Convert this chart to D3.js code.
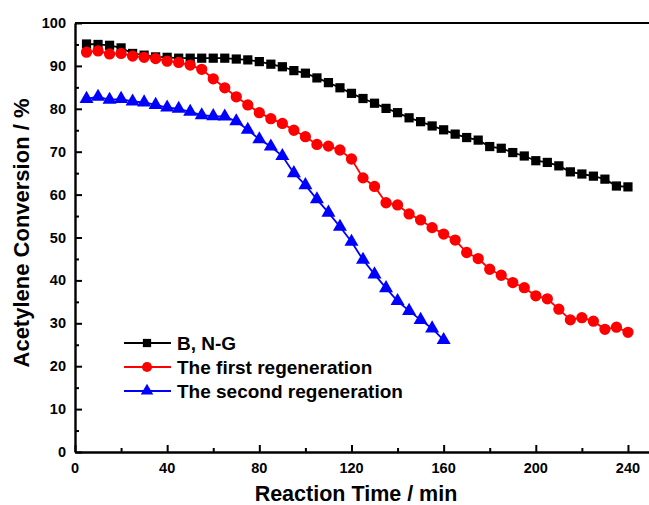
<!DOCTYPE html>
<html><head><meta charset="utf-8">
<script src="https://cdn.jsdelivr.net/npm/d3@7"></script>
<style>body{margin:0;background:#fff}svg{display:block}text{font-family:"Liberation Sans",Arial,sans-serif;font-weight:bold;fill:#000}</style>
</head><body>
<svg id="c" width="649" height="505"></svg>
<script>
const times = [5,10,15,20,25,30,35,40,45,50,55,60,65,70,75,80,85,90,95,100,105,110,115,120,125,130,135,140,145,150,155,160,165,170,175,180,185,190,195,200,205,210,215,220,225,230,235,240];
const bngValues = [95.1,95,94.8,94.2,92.9,92.5,92.1,92,91.8,91.8,91.8,91.8,91.8,91.6,91.4,91,90.4,89.8,88.9,88.3,87.2,86.1,84.9,83.6,82.4,81.3,80.1,79.1,77.9,77,76,75.1,74.1,73.3,72.7,71.2,70.8,69.8,69,67.9,67.5,66.7,65.3,64.8,64.3,63.6,62,61.8];
const firstValues = [93.2,93.5,92.8,92.9,92.3,92,91.7,91.1,90.8,90.2,89.2,87,84.9,82.8,80.9,79.1,77.7,76.6,75,73.5,71.7,71.3,70.4,68.3,63.9,61.9,58.1,57.6,55.5,54.1,52.3,50.8,49.4,46.5,45.1,42.6,41.2,39.5,38.3,36.4,35.7,33.3,30.8,31.3,30.5,28.6,29.1,27.9];
const secondValues = [82.3,82.8,82.1,82.3,81.7,81.5,80.9,80.3,80,79.3,78.5,78.3,78.2,77.1,75.1,72.9,71.2,69,65,62.2,58.9,55.8,52.5,49,44.8,41.4,38.2,35.2,32.9,30.8,28.8,26.1];
const seriesNames = ["B, N-G","The first regeneration","The second regeneration"];
const seriesColors = ["#000000","#ff0000","#0000ff"];
const xTicks = [0,40,80,120,160,200,240];
const yTicks = [0,10,20,30,40,50,60,70,80,90,100];

const svg = d3.select("#c");
const x = d3.scaleLinear().domain([0,250]).range([75,651]);
const y = d3.scaleLinear().domain([0,100]).range([452,23]);

// frame top line
svg.append("line").attr("x1",x(0)).attr("x2",x(250)).attr("y1",y(100)).attr("y2",y(100)).attr("stroke","#000").attr("stroke-width",2.2);

// x axis
const gx = svg.append("g").attr("transform",`translate(0,${y(0)})`);
gx.call(d3.axisBottom(x).tickValues(d3.range(0,241,20)).tickSize(0).tickFormat(""));
gx.select(".domain").attr("stroke-width",2.4);
gx.selectAll(".tick").append("line").attr("y2",d=>d%40===0?-7:-4).attr("stroke","#000").attr("stroke-width",2);
gx.selectAll(".tickl").data(xTicks).enter().append("text").attr("fill","#000")
  .attr("x",d=>x(d)).attr("y",21).attr("text-anchor","middle").attr("font-size",14.5).text(d=>d);

// y axis
const gy = svg.append("g").attr("transform",`translate(${x(0)},0)`);
gy.call(d3.axisLeft(y).tickValues(d3.range(0,101,5)).tickSize(0).tickFormat(""));
gy.select(".domain").attr("stroke-width",2.4);
gy.selectAll(".tick").append("line").attr("x2",d=>d%10===0?7:4).attr("stroke","#000").attr("stroke-width",2);
gy.selectAll(".tickl").data(yTicks).enter().append("text").attr("fill","#000")
  .attr("x",-9).attr("y",d=>y(d)+5).attr("text-anchor","end").attr("font-size",14.5).text(d=>d);

// titles
svg.append("text").attr("x",356).attr("y",501).attr("text-anchor","middle").attr("font-size",21.5).text("Reaction Time / min");
svg.append("text").attr("transform","translate(29,233) rotate(-90)").attr("text-anchor","middle").attr("font-size",22).text("Acetylene Conversion / %");

const allSeries = [bngValues, firstValues, secondValues];
const symbols = [d3.symbolSquare, d3.symbolCircle, d3.symbolTriangle];
const sizes = [85, 100, 85];
const line = d3.line().x(d=>x(d[0])).y(d=>y(d[1]));

allSeries.forEach((vals,i)=>{
  const pts = vals.map((v,j)=>[times[j],v]);
  svg.append("path").datum(pts).attr("d",line).attr("fill","none").attr("stroke",seriesColors[i]).attr("stroke-width",1.8);
  svg.append("g").selectAll("path").data(pts).enter().append("path")
    .attr("transform",d=>`translate(${x(d[0])},${y(d[1])})`)
    .attr("d",d3.symbol().type(symbols[i]).size(sizes[i])).attr("fill",seriesColors[i]);
});

// legend
const legY = [343,367,391];
seriesNames.forEach((n,i)=>{
  svg.append("line").attr("x1",124).attr("x2",171).attr("y1",legY[i]).attr("y2",legY[i]).attr("stroke",seriesColors[i]).attr("stroke-width",1.8);
  svg.append("path").attr("transform",`translate(147,${legY[i]})`).attr("d",d3.symbol().type(symbols[i]).size(sizes[i]*0.8)).attr("fill",seriesColors[i]);
  svg.append("text").attr("x",177).attr("y",legY[i]+6.5).attr("font-size",19).text(n);
});
</script>
</body></html>
